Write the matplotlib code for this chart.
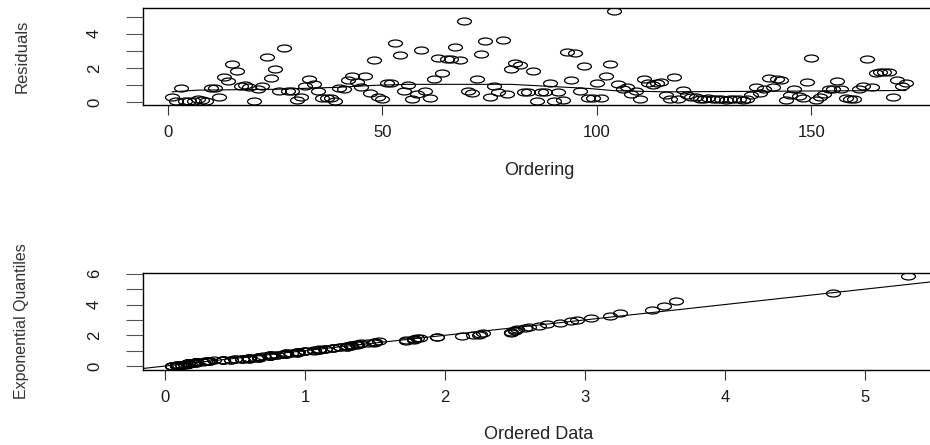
import numpy as np
import matplotlib
matplotlib.use("Agg")
import matplotlib.pyplot as plt
from matplotlib.path import Path
from matplotlib.transforms import Affine2D

# ---------------- data ----------------
residuals = [
    0.30, 0.08, 0.80, 0.05, 0.05, 0.05, 0.20, 0.10, 0.05, 0.85,
    0.85, 0.30, 1.45, 1.25, 2.25, 1.80, 0.95, 1.00, 0.90, 0.08,
    0.75, 0.95, 2.67, 1.40, 1.94, 0.67, 3.18, 0.67, 0.67, 0.15,
    0.28, 0.94, 1.37, 1.06, 0.67, 0.22, 0.22, 0.22, 0.08, 0.80,
    0.76, 1.30, 1.53, 1.20, 0.86, 1.50, 0.55, 2.47, 0.31, 0.16,
    1.10, 1.14, 3.48, 2.73, 0.67, 1.00, 0.16, 0.47, 3.04, 0.67,
    0.22, 1.33, 2.60, 1.72, 2.50, 2.50, 3.25, 2.47, 4.77, 0.67,
    0.55, 1.37, 2.82, 3.56, 0.31, 0.94, 0.60, 3.65, 0.50, 1.94,
    2.27, 2.20, 0.60, 0.60, 1.82, 0.08, 0.60, 0.60, 1.10, 0.08,
    0.60, 0.12, 2.94, 1.30, 2.90, 0.65, 2.12, 0.22, 0.22, 1.14,
    0.22, 1.50, 2.24, 5.31, 1.06, 0.75, 0.86, 0.47, 0.67, 0.16,
    1.33, 1.10, 1.00, 1.10, 1.20, 0.41, 0.16, 1.49, 0.16, 0.70,
    0.41, 0.27, 0.31, 0.16, 0.16, 0.22, 0.16, 0.16, 0.16, 0.12,
    0.16, 0.16, 0.16, 0.12, 0.16, 0.41, 0.86, 0.55, 0.75, 1.39,
    0.86, 1.33, 1.30, 0.12, 0.41, 0.75, 0.35, 0.22, 1.20, 2.57,
    0.12, 0.31, 0.50, 0.75, 0.75, 1.25, 0.75, 0.22, 0.16, 0.16,
    0.75, 0.94, 2.51, 0.86, 1.72, 1.78, 1.78, 1.78, 0.31, 1.30,
    0.94, 1.14,
]
ordering = list(range(1, len(residuals) + 1))

# smoothing line drawn through the residual plot
smooth_x = [1, 7, 25, 39, 48, 56, 80, 92, 98, 104, 116, 130, 150, 172]
smooth_y = [0.60, 0.70, 0.75, 0.86, 0.98, 1.04, 1.04, 0.88, 0.80, 0.67, 0.60, 0.62, 0.65, 0.68]

# reference line of the QQ plot
qq_line_intercept = 0.0
qq_line_slope = 1.0

top_xticks = [0, 50, 100, 150]
top_yticks = [0, 1, 2, 3, 4, 5]
top_yticklabels = ["0", "", "2", "", "4", ""]
bot_xticks = [0, 1, 2, 3, 4, 5]
bot_yticks = [0, 1, 2, 3, 4, 5, 6]
bot_yticklabels = ["0", "", "2", "", "4", "", "6"]

# QQ panel: ordered data vs exponential quantiles
ordered_data = np.sort(np.array(residuals))
n = len(ordered_data)
probs = (np.arange(1, n + 1) - 0.5) / n
exp_quantiles = -np.log(1.0 - probs)

# ---------------- figure ----------------
W, H = 930, 445
fig = plt.figure(figsize=(W / 100, H / 100), dpi=100)
plt.rcParams["font.family"] = ["Liberation Sans", "DejaVu Sans"]

txt_color = "#1a1a1a"
ell = Path.unit_circle().transformed(Affine2D().scale(2.0, 1.0))


def px_axes(left, top, right, bottom):
    return fig.add_axes([left / W, 1 - bottom / H, (right - left) / W, (bottom - top) / H])


def style(ax, xt, yt, ytl):
    for s in ax.spines.values():
        s.set_linewidth(1.0)
        s.set_color("black")
    ax.set_xticks(xt)
    ax.set_yticks(yt)
    ax.set_yticklabels(ytl)
    ax.tick_params(axis="x", direction="out", length=7.5, width=0.8, color="#333333",
                   pad=7, labelsize=12, labelcolor=txt_color)
    ax.tick_params(axis="y", direction="out", length=12.5, width=0.8, color="#555555",
                   pad=17, labelsize=12, labelcolor=txt_color, labelrotation=90)
    for lab in ax.get_yticklabels():
        lab.set_va("center")
        lab.set_ha("right")


# top panel
ax1 = px_axes(143, 8, 935, 105)
ax1.plot(smooth_x, smooth_y, color="black", lw=0.8, zorder=2)
ax1.plot(ordering, residuals, linestyle="none", marker=ell, markersize=10,
         mfc="none", mec="black", mew=0.9, zorder=3)
ax1.set_xlim(-5.8, 178.8)
ax1.set_ylim(-0.17, 5.51)
style(ax1, top_xticks, top_yticks, top_yticklabels)
ax1.set_xlabel("Ordering", fontsize=13, color="#222222")
ax1.xaxis.set_label_coords(0.5, -0.68)
ax1.xaxis.label.set_va("center")
ax1.set_ylabel("Residuals", fontsize=12, color="#333333")
ax1.yaxis.set_label_coords((22 - 143) / 792, 0.5)
ax1.yaxis.label.set_va("center")

# bottom panel
ax2 = px_axes(143, 273, 935, 370)
xl = np.array([-0.2, 5.6])
ax2.plot(xl, qq_line_intercept + qq_line_slope * xl, color="black", lw=0.8, zorder=2)
ax2.plot(ordered_data, exp_quantiles, linestyle="none", marker=ell, markersize=10,
         mfc="none", mec="black", mew=0.9, zorder=3)
ax2.set_xlim(-0.16, 5.5)
ax2.set_ylim(-0.26, 6.05)
style(ax2, bot_xticks, bot_yticks, bot_yticklabels)
ax2.set_xlabel("Ordered Data", fontsize=13, color="#222222")
ax2.xaxis.set_label_coords(0.5, -0.662)
ax2.xaxis.label.set_va("center")
ax2.set_ylabel("Exponential Quantiles", fontsize=11.5, color="#333333")
ax2.yaxis.set_label_coords((22 - 143) / 792, 0.5)
ax2.yaxis.label.set_va("center")

fig.savefig("out.png", dpi=100)
